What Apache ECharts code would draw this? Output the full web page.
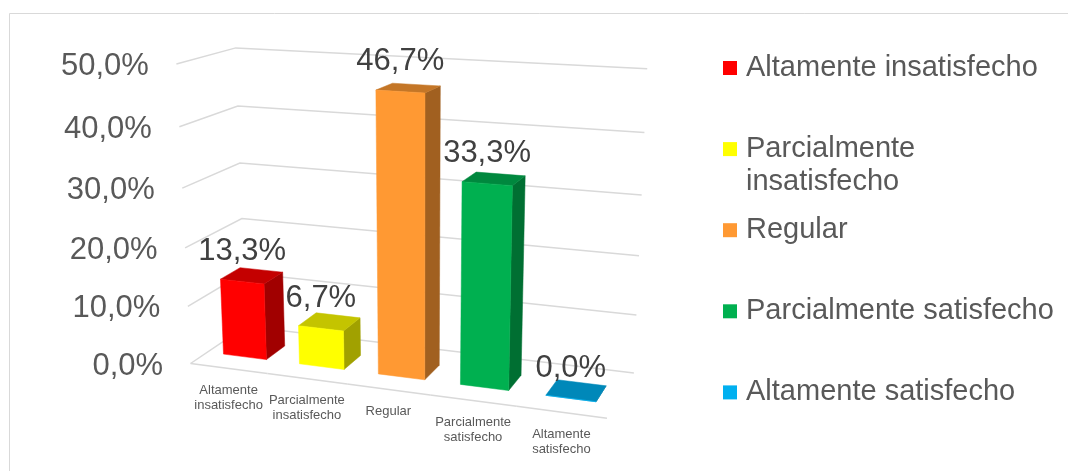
<!DOCTYPE html>
<html>
<head>
<meta charset="utf-8">
<title>Nivel de satisfacción</title>
<script src="https://cdn.jsdelivr.net/npm/echarts@6/dist/echarts.min.js"></script>
<style>
  html, body { margin: 0; padding: 0; background: #ffffff; }
  #chart { width: 1068px; height: 471px; }
</style>
</head>
<body>
<div id="chart"></div>
<script>
// ---- data ----
const categories = ['Altamente insatisfecho', 'Parcialmente insatisfecho', 'Regular', 'Parcialmente satisfecho', 'Altamente satisfecho'];
const axisLabels = ['Altamente\ninsatisfecho', 'Parcialmente\ninsatisfecho', 'Regular', 'Parcialmente\nsatisfecho', 'Altamente\nsatisfecho'];
const legendLabels = ['Altamente insatisfecho', 'Parcialmente\ninsatisfecho', 'Regular', 'Parcialmente satisfecho', 'Altamente satisfecho'];
const values = [13.3, 6.7, 46.7, 33.3, 0.0];
const yTicks = [0, 10, 20, 30, 40, 50];
const colors = ['#FF0000', '#FFFF00', '#FF9933', '#00B050', '#00B0F0'];

// ---- styling ----
const FONT = "'Liberation Sans', Arial, Helvetica, sans-serif";
const GRID_COLOR = '#D9D9D9';
const TEXT_COLOR = '#595959';
const LABEL_COLOR = '#404040';

// Box geometry in axis units: x spans the 5 categories, z is depth (0 front, 1 back wall)
const BAR_INSET = 0.215;     // gap on each side of a column inside its category slot
const BAR_Z0 = 0.292;        // front face of the columns
const BAR_Z1 = 0.646;        // back face of the columns

// Perspective camera: maps (u, v) of the front plane (from the cartesian axes) plus depth z to the screen
const CAMERA = [
  [0.88708268, 0.083578262, 76.644376, -3.1934440],
  [0.036363248, 1.0385744, -11.604169, -11.521196],
  [-0.00023670350, 0.00019859561, 0.081453584, 1.0]
];

function project(u, v, z) {
  const w = CAMERA[2][0] * u + CAMERA[2][1] * v + CAMERA[2][2] * z + CAMERA[2][3];
  return [
    (CAMERA[0][0] * u + CAMERA[0][1] * v + CAMERA[0][2] * z + CAMERA[0][3]) / w,
    (CAMERA[1][0] * u + CAMERA[1][1] * v + CAMERA[1][2] * z + CAMERA[1][3]) / w
  ];
}
function pt(api, x, y, z) {
  const c = api.coord([x, y]);
  return project(c[0], c[1], z);
}
function shade(hex, k) {
  const n = parseInt(hex.slice(1), 16);
  const r = Math.round(((n >> 16) & 255) * k), g = Math.round(((n >> 8) & 255) * k), b = Math.round((n & 255) * k);
  return 'rgb(' + r + ',' + g + ',' + b + ')';
}
function pct(v) {
  return v.toFixed(1).replace('.', ',') + '%';
}
function textStyle(o) {
  return Object.assign({
    fontFamily: FONT,
    textAlign: o.align, align: o.align,
    textVerticalAlign: o.verticalAlign, verticalAlign: o.verticalAlign
  }, o);
}

const nCat = categories.length;
const yMax = yTicks[yTicks.length - 1];

// side wall + back wall gridlines with the value labels
function renderWalls(params, api) {
  const t = api.value(0);
  const a = pt(api, 0, t, 0), b = pt(api, 0, t, 1), c = pt(api, nCat, t, 1);
  return {
    type: 'group',
    children: [
      { type: 'polyline', shape: { points: [a, b, c] }, style: { stroke: GRID_COLOR, lineWidth: 1.5, fill: null } },
      { type: 'text', style: textStyle({ text: pct(t), x: a[0] - 27.5, y: a[1] + 2.5, align: 'right', verticalAlign: 'middle', fontSize: 31, fill: TEXT_COLOR }) }
    ]
  };
}

// front edge of the floor and the category names under it
function renderCategoryAxis(params, api) {
  const i = api.value(0);
  const a = pt(api, i, 0, 0), b = pt(api, i + 1, 0, 0), m = pt(api, i + 0.5, 0, 0);
  return {
    type: 'group',
    children: [
      { type: 'line', shape: { x1: a[0], y1: a[1], x2: b[0], y2: b[1] }, style: { stroke: GRID_COLOR, lineWidth: 1.5 } },
      { type: 'text', style: textStyle({ text: axisLabels[i], x: m[0], y: m[1] + 14.5, align: 'center', verticalAlign: 'top', fontSize: 13, lineHeight: 15, fill: TEXT_COLOR }) }
    ]
  };
}

// 3-D columns: right side, top and front faces, then the value label
function renderColumn(params, api) {
  const i = api.value(0), val = api.value(1);
  const x0 = i + BAR_INSET, x1 = i + 1 - BAR_INSET;
  const col = colors[i];
  const fbl = pt(api, x0, 0, BAR_Z0), fbr = pt(api, x1, 0, BAR_Z0);
  const ftl = pt(api, x0, val, BAR_Z0), ftr = pt(api, x1, val, BAR_Z0);
  const bbr = pt(api, x1, 0, BAR_Z1), btr = pt(api, x1, val, BAR_Z1), btl = pt(api, x0, val, BAR_Z1);
  const mid = pt(api, i + 0.5, val, BAR_Z0);
  const face = (points, fill) => ({ type: 'polygon', shape: { points }, style: { fill, stroke: fill, lineWidth: 0.5 } });
  return {
    type: 'group',
    children: [
      face([fbr, bbr, btr, ftr], shade(col, 0.63)),
      face([ftl, ftr, btr, btl], shade(col, 0.77)),
      face([fbl, fbr, ftr, ftl], col),
      { type: 'text', style: textStyle({ text: pct(val), x: mid[0], y: mid[1] - 30, align: 'center', verticalAlign: 'middle', fontSize: 31, fill: LABEL_COLOR }) }
    ]
  };
}

// legend on the right
const legendGraphics = categories.map((name, i) => {
  const cy = 68 + 81.1 * i;
  return {
    type: 'group',
    children: [
      { type: 'rect', shape: { x: 723, y: cy - 7, width: 14, height: 14 }, style: { fill: colors[i] } },
      { type: 'text', style: { text: legendLabels[i], x: 746, y: cy - 16.3, font: '29px ' + FONT, lineHeight: 32.6, fill: TEXT_COLOR, textAlign: 'left', textVerticalAlign: 'top', align: 'left', verticalAlign: 'top' } }
    ]
  };
});

const chart = echarts.init(document.getElementById('chart'), null, { renderer: 'canvas' });
chart.setOption({
  animation: false,
  backgroundColor: '#ffffff',
  grid: { left: 190, top: 64, width: 83 * nCat, height: 6 * yMax },
  xAxis: { type: 'value', min: 0, max: nCat, show: false },
  yAxis: { type: 'value', min: 0, max: yMax, interval: 10, show: false },
  graphic: [
    { type: 'rect', shape: { x: 9.5, y: 13.5, width: 1100, height: 500 }, style: { fill: null, stroke: GRID_COLOR, lineWidth: 1 }, z: -1 }
  ].concat(legendGraphics),
  series: [
    { type: 'custom', name: 'walls', renderItem: renderWalls, data: yTicks.map(t => [t]), silent: true, z: 1 },
    { type: 'custom', name: 'axis', renderItem: renderCategoryAxis, data: categories.map((c, i) => [i]), silent: true, z: 2 },
    { type: 'custom', name: 'Satisfacción', renderItem: renderColumn, data: values.map((v, i) => [i, v]), z: 3 }
  ]
});
</script>
</body>
</html>
